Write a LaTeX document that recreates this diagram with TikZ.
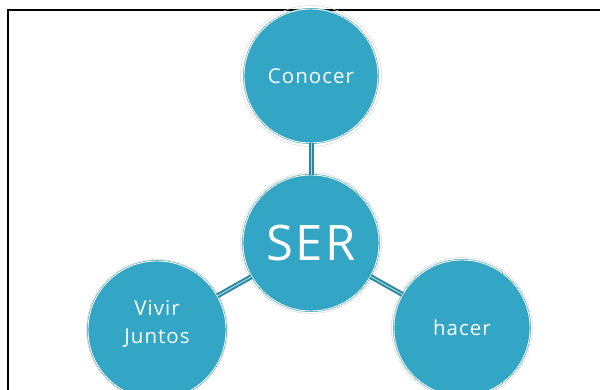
\documentclass[tikz,border=0pt]{standalone}
\usepackage{fontspec}
\setmainfont{Open Sans}[LetterSpace=5]
\definecolor{bubfill}{HTML}{32A6C4}
\definecolor{bubedge}{HTML}{2E9BB8}
\definecolor{conndark}{HTML}{2A88A0}
\definecolor{connlight}{HTML}{A8D8E4}
\definecolor{halo}{HTML}{D4D8DA}
\tikzset{
  bub/.style={circle, fill=bubfill, draw=bubedge, line width=0.5pt, double=white, double distance=0.9pt,
              text=white, align=center, inner sep=0pt, minimum size=#1},
  haloring/.style={draw=halo, line width=0.5pt},
  conn/.style={draw=conndark, line width=2pt, double=connlight, double distance=1pt},
  frame/.style={draw=black, line width=2pt}
}
\begin{document}
\begin{tikzpicture}[x=1pt,y=-1pt]
\useasboundingbox (0,0) rectangle (600,390);
\begin{scope}
\clip (0,0) rectangle (600,390);
\draw[frame] (8,10) rectangle (620,410);
\node[bub=134pt, font=\fontsize{20.5}{24}\selectfont] (conocer) at (311,76) {Conocer};
\node[bub=136pt, font=\fontsize{49}{56}\selectfont] (ser) at (311,243) {SER};
\node[bub=138pt] (vivir) at (157,330) {};
\node[text=white, align=center, font=\fontsize{20.5}{28}\selectfont] (vivirlabel) at (157,324) {Vivir\\Juntos};
\node[bub=136pt, font=\fontsize{20.5}{24}\selectfont] (hacer) at (462,328) {hacer};
\foreach \n in {conocer,ser,vivir,hacer}{
  \draw[haloring] (\n.center) circle[radius=70.5pt];
}
\draw[conn] (conocer) -- (ser);
\draw[conn] (ser) -- (vivir);
\draw[conn] (ser) -- (hacer);
\end{scope}
\end{tikzpicture}
\end{document}
